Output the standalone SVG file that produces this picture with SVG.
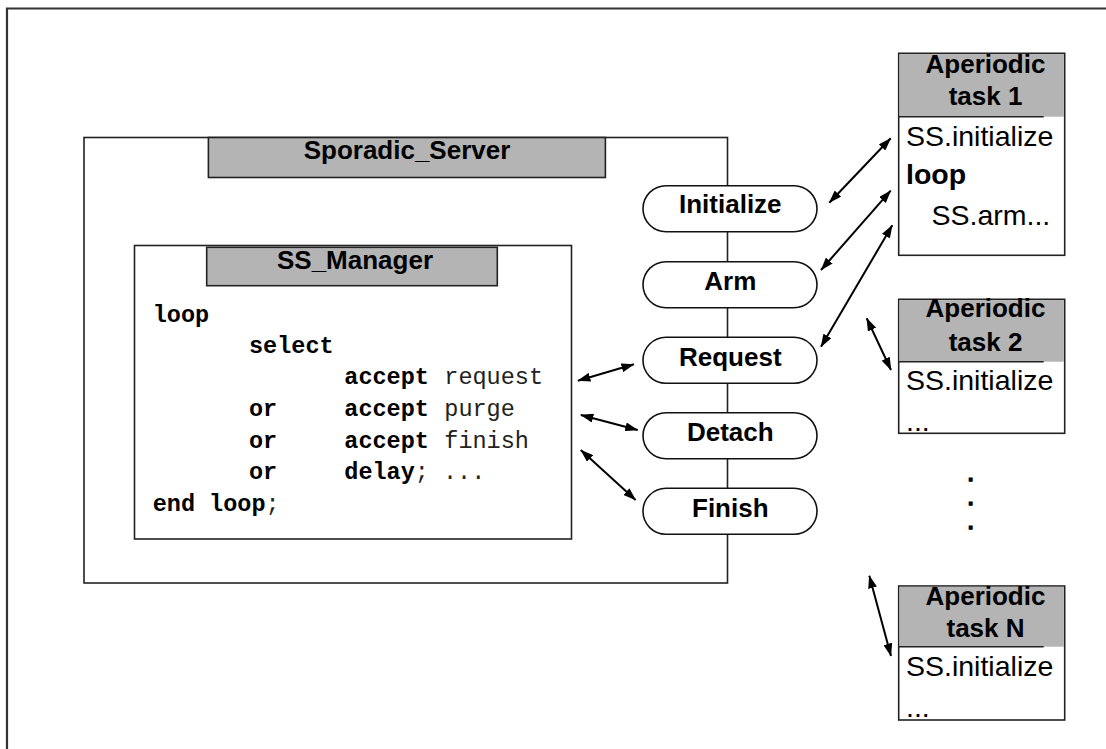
<svg xmlns="http://www.w3.org/2000/svg" width="1106" height="749" viewBox="0 0 1106 749">
<defs>
<style>
.box{fill:#fff;stroke:#222;stroke-width:1.6}
.hdr{fill:#b4b4b4;stroke:#222;stroke-width:1.6}
.hdrf{fill:#b4b4b4;stroke:none}
.pill{fill:#fff;stroke:#111;stroke-width:1.6}
.ttl{font-family:"Liberation Sans",Arial,sans-serif;font-weight:bold;font-size:26px;fill:#000;text-anchor:middle}
.dot{font-family:"Liberation Sans",Arial,sans-serif;font-weight:bold;font-size:19px;fill:#000;stroke:#000;stroke-width:1.3;text-anchor:middle}
.body{font-family:"Liberation Sans",Arial,sans-serif;font-size:28.5px;fill:#000}
.code{font-family:"Liberation Mono","Courier New",monospace;font-size:23.5px;fill:#222}
.kw{font-weight:bold;fill:#000}
.arr{stroke:#000;stroke-width:2;fill:none;marker-start:url(#ah);marker-end:url(#ah)}
</style>
<marker id="ah" viewBox="0 0 13 9" refX="12.5" refY="4.5" markerWidth="13" markerHeight="9" markerUnits="userSpaceOnUse" orient="auto-start-reverse">
<path d="M0,0 L13,4.5 L0,9 z" fill="#000"/>
</marker>
</defs>
<rect width="1106" height="749" fill="#fff"/>
<path d="M7,760 V8.5 H1120" fill="none" stroke="#333" stroke-width="2.2"/>

<g id="sporadic_server">
<rect class="box" x="84" y="137.5" width="643.5" height="445.5"/>
<rect class="hdr" x="208.4" y="137.5" width="397" height="40"/>
<text class="ttl" x="407" y="158.5">Sporadic_Server</text>
</g>

<g id="ss_manager">
<rect class="box" x="134.5" y="245.5" width="437" height="293.5"/>
<rect class="hdr" x="206.7" y="247.3" width="290.6" height="38.4"/>
<text class="ttl" x="355" y="269.3">SS_Manager</text>
<text class="code" xml:space="preserve"><tspan class="kw" x="152.7" y="321.7">loop</tspan><tspan class="kw" x="249" y="352.7">select</tspan><tspan class="kw" x="344.3" y="384.3">accept</tspan><tspan x="444.3" y="384.3">request</tspan><tspan class="kw" x="249" y="416">or</tspan><tspan class="kw" x="344.3" y="416">accept</tspan><tspan x="444.3" y="416">purge</tspan><tspan class="kw" x="249" y="447.7">or</tspan><tspan class="kw" x="344.3" y="447.7">accept</tspan><tspan x="444.3" y="447.7">finish</tspan><tspan class="kw" x="249" y="479.3">or</tspan><tspan class="kw" x="344.3" y="479.3">delay</tspan><tspan>; ...</tspan><tspan class="kw" x="152.7" y="510.7">end loop</tspan><tspan>;</tspan></text>
</g>

<g id="initialize">
<rect class="pill" x="643" y="185.7" width="174" height="46" rx="23"/>
<text class="ttl" x="730.3" y="213.3">Initialize</text>
</g>
<g id="arm">
<rect class="pill" x="643" y="261.7" width="174" height="46" rx="23"/>
<text class="ttl" x="730.3" y="290">Arm</text>
</g>
<g id="request">
<rect class="pill" x="643" y="337.3" width="174" height="46" rx="23"/>
<text class="ttl" x="730.3" y="366">Request</text>
</g>
<g id="detach">
<rect class="pill" x="643" y="412.7" width="174" height="46" rx="23"/>
<text class="ttl" x="730.3" y="441">Detach</text>
</g>
<g id="finish">
<rect class="pill" x="643" y="488.3" width="174" height="46" rx="23"/>
<text class="ttl" x="730.3" y="516.7">Finish</text>
</g>

<g id="task1">
<rect class="box" x="898.7" y="53.3" width="166" height="202"/>
<rect class="hdrf" x="899.5" y="54.1" width="164.4" height="62.6"/>
<line x1="898.7" y1="116.7" x2="1043.7" y2="116.7" stroke="#222" stroke-width="1.6"/>
<text class="ttl" x="985.5" y="72.7">Aperiodic</text>
<text class="ttl" x="985.5" y="105">task 1</text>
<text class="body" x="906" y="145.7">SS.initialize</text>
<text class="body" x="906" y="184.3" font-weight="bold">loop</text>
<text class="body" x="931.5" y="225">SS.arm...</text>
</g>

<g id="task2">
<rect class="box" x="898.7" y="299.3" width="166" height="134"/>
<rect class="hdrf" x="899.5" y="300.1" width="164.4" height="61.6"/>
<line x1="898.7" y1="361.7" x2="1043.7" y2="361.7" stroke="#222" stroke-width="1.6"/>
<text class="ttl" x="985.5" y="316.7">Aperiodic</text>
<text class="ttl" x="985.5" y="350.7">task 2</text>
<text class="body" x="906" y="390">SS.initialize</text>
<text class="body" x="906" y="431">...</text>
</g>

<g id="ellipsis">
<text class="dot" x="970.7" y="481">.</text>
<text class="dot" x="970.7" y="505">.</text>
<text class="dot" x="970.7" y="528.5">.</text>
</g>

<g id="taskN">
<rect class="box" x="898.7" y="586" width="166" height="134"/>
<rect class="hdrf" x="899.5" y="586.8" width="164.4" height="59.9"/>
<line x1="898.7" y1="646.7" x2="1043.7" y2="646.7" stroke="#222" stroke-width="1.6"/>
<text class="ttl" x="985.5" y="605">Aperiodic</text>
<text class="ttl" x="985.5" y="637.3">task N</text>
<text class="body" x="906" y="676">SS.initialize</text>
<text class="body" x="906" y="716.5">...</text>
</g>

<g id="connectors">
<line class="arr" x1="829.3" y1="202.7" x2="890.7" y2="138.3"/>
<line class="arr" x1="821" y1="270" x2="890.7" y2="190.7"/>
<line class="arr" x1="821" y1="346.7" x2="892.3" y2="225.3"/>
<line class="arr" x1="866.7" y1="318.3" x2="891" y2="370"/>
<line class="arr" x1="869.3" y1="575.7" x2="891" y2="656"/>
<line class="arr" x1="577.9" y1="380.7" x2="633.9" y2="364.3"/>
<line class="arr" x1="580.8" y1="415" x2="637.7" y2="430"/>
<line class="arr" x1="580.8" y1="450" x2="635.6" y2="500"/>
</g>
</svg>
